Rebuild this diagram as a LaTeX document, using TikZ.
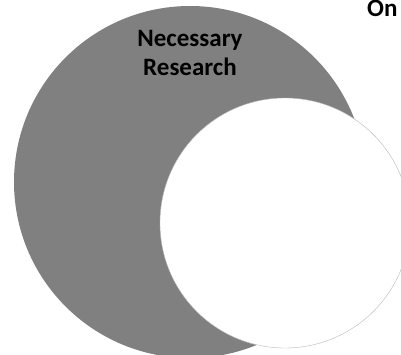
\documentclass[tikz,border=0pt]{standalone}
\usepackage{fontspec}
\setmainfont{Carlito}
\begin{document}
\begin{tikzpicture}[x=1pt,y=1pt,
  label/.style={font=\bfseries\fontsize{25}{29}\selectfont, inner sep=0pt, text=black},
  bigset/.style={fill={rgb,255:red,128;green,128;blue,128}, draw=none},
  subset/.style={fill=white, draw=gray!55, line width=0.4pt}]
  \useasboundingbox (0,0) rectangle (401,354);
  \clip (0,0) rectangle (401,354);
  % large set
  \path[bigset] (190,172) circle[radius=176];
  % overlapping set
  \path[subset] (285,131) circle[radius=125];
  % labels
  \node[label, anchor=base, align=center] (nec) at (190,278) {Necessary\\Research};
  \node[label, anchor=base west] (on) at (367,337) {On};
\end{tikzpicture}
\end{document}
